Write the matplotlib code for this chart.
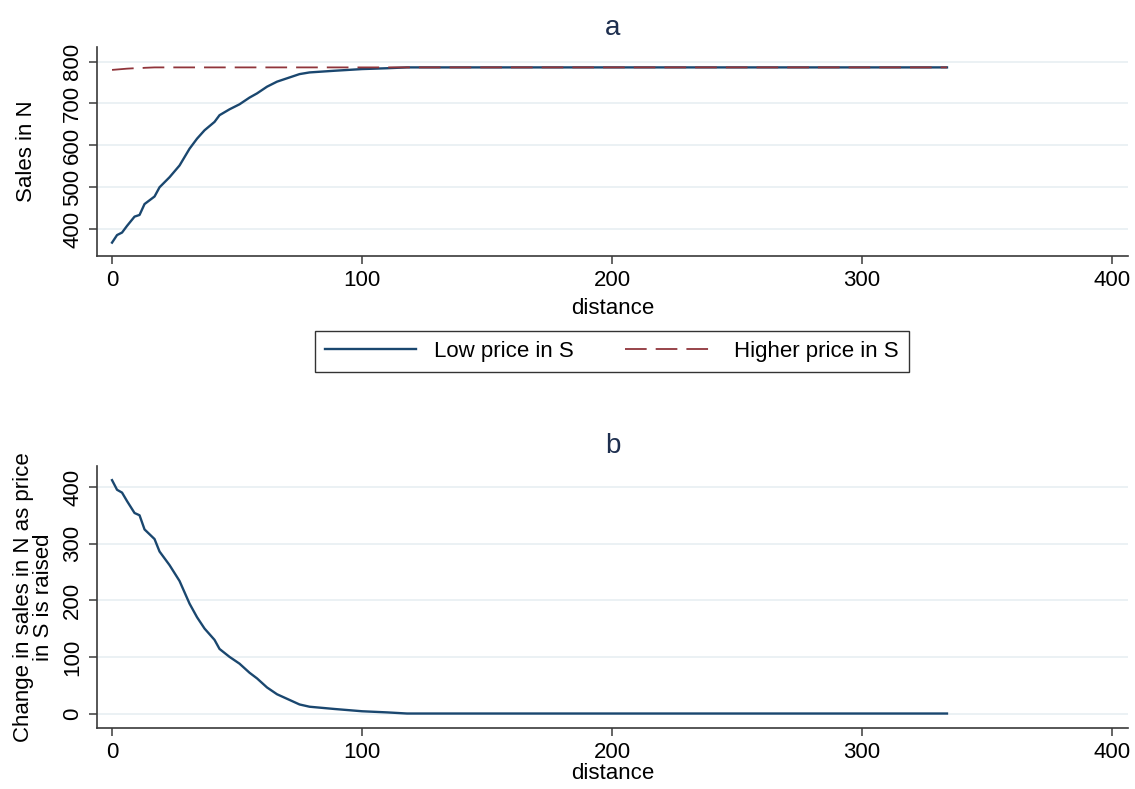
import matplotlib
matplotlib.use('Agg')
import numpy as np
import matplotlib.pyplot as plt

plt.rcParams['font.family'] = ['Liberation Sans', 'DejaVu Sans']

# values
distance = [0, 2, 4, 6, 9, 11, 13, 17, 19, 23, 27, 29, 31, 34, 37, 41, 43, 47, 51,
            55, 58, 62, 66, 70, 75, 79, 89, 100, 110, 118, 334]
low_price = [368, 386, 392, 408, 430, 434, 460, 478, 500, 524, 552, 572, 592, 616, 636,
             656, 672, 686, 698, 714, 724, 740, 752, 760, 770, 774, 778, 782, 784, 786, 786]
high_price = [780, 781, 782, 783, 784, 784, 785, 786, 786, 786, 786, 786, 786, 786, 786,
              786, 786, 786, 786, 786, 786, 786, 786, 786, 786, 786, 786, 786, 786, 786, 786]
change = list(np.array(high_price) - np.array(low_price))

x_ticks = [0, 100, 200, 300, 400]
top_yticks = [400, 500, 600, 700, 800]
bot_yticks = [0, 100, 200, 300, 400]

navy = '#1a476f'
maroon = '#90353b'
grid_c = '#e9f0f3'
axis_c = '#3a3a3a'
tick_fs = 16
lab_fs = 16

fig = plt.figure(figsize=(11.35, 7.89), dpi=100)


def style(ax, yticks):
    ax.set_xticks(x_ticks)
    ax.set_yticks(yticks)
    for s in ['top', 'right']:
        ax.spines[s].set_visible(False)
    for s in ['left', 'bottom']:
        ax.spines[s].set_color(axis_c)
        ax.spines[s].set_linewidth(1.2)
    ax.tick_params(axis='both', colors=axis_c, labelcolor='black', labelsize=tick_fs,
                   length=6, width=1.1, direction='out')
    ax.tick_params(axis='y', pad=4)
    ax.tick_params(axis='x', pad=4)
    for lab in ax.get_yticklabels():
        lab.set_rotation(90)
        lab.set_va('center')
    ax.grid(axis='y', color=grid_c, linewidth=1.3)
    ax.set_axisbelow(True)


ax1 = fig.add_axes([0.0855, 0.6755, 0.9083, 0.2649])
l1, = ax1.plot(distance, low_price, color=navy, lw=1.7, label='Low price in S')
l2, = ax1.plot(distance, high_price, color=maroon, lw=1.3, dashes=(12, 5),
               label='Higher price in S')
ax1.set_xlim(-6, 406.4)
ax1.set_ylim(336, 834.6)
style(ax1, top_yticks)
ax1.set_xlabel('distance', fontsize=lab_fs, labelpad=5)
ax1.set_ylabel('Sales in N', fontsize=lab_fs, labelpad=18)
ax1.set_title('a', fontsize=20, pad=9, color='#1e2f4f')

fig.legend(handles=[l1, l2], loc='center', bbox_to_anchor=(612 / 1135, 1 - 351.5 / 789),
           ncol=2, fontsize=lab_fs, frameon=True, fancybox=False, edgecolor='black',
           handlelength=4.1, handletextpad=0.8, columnspacing=2.3,
           borderpad=0.45, borderaxespad=0)

ax2 = fig.add_axes([0.0855, 0.0770, 0.9083, 0.3324])
ax2.plot(distance, change, color=navy, lw=1.7)
ax2.set_xlim(-6, 406.4)
ax2.set_ylim(-26, 437)
style(ax2, bot_yticks)
ax2.set_xlabel('distance', fontsize=lab_fs, labelpad=0)
ax2.set_ylabel('Change in sales in N as price\nin S is raised', fontsize=lab_fs,
               labelpad=6, linespacing=0.95)
ax2.set_title('b', fontsize=20, pad=9, color='#1e2f4f')

fig.savefig('out.png', dpi=100)
